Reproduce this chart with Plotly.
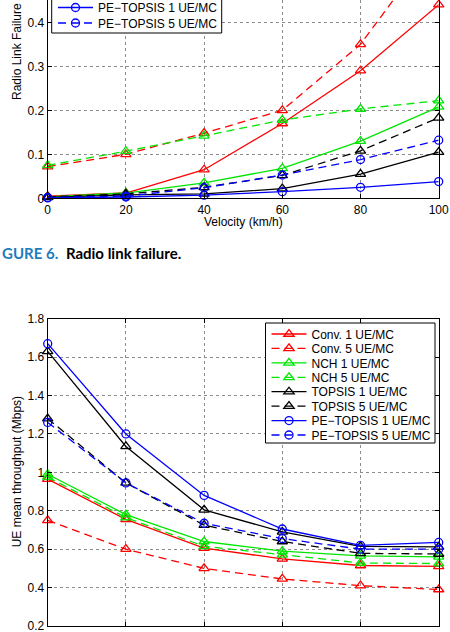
import plotly.graph_objects as go

W, H = 450, 632

velocity = [0, 20, 40, 60, 80, 100]
series_names = ["Conv. 1 UE/MC", "Conv. 5 UE/MC", "NCH 1 UE/MC", "NCH 5 UE/MC",
                "TOPSIS 1 UE/MC", "TOPSIS 5 UE/MC",
                "PE\u2212TOPSIS 1 UE/MC", "PE\u2212TOPSIS 5 UE/MC"]

# Radio link failure (top chart)
rlf_conv1 = [0.005, 0.012, 0.065, 0.170, 0.290, 0.440]
rlf_conv5 = [0.072, 0.100, 0.148, 0.200, 0.350, 0.590]
rlf_nch1 = [0.003, 0.012, 0.035, 0.068, 0.130, 0.208]
rlf_nch5 = [0.075, 0.107, 0.142, 0.178, 0.203, 0.222]
rlf_topsis1 = [0.002, 0.008, 0.010, 0.022, 0.055, 0.105]
rlf_topsis5 = [0.003, 0.010, 0.025, 0.052, 0.108, 0.183]
rlf_pe1 = [0.001, 0.003, 0.007, 0.015, 0.025, 0.038]
rlf_pe5 = [0.002, 0.005, 0.024, 0.053, 0.088, 0.132]

# UE mean throughput (bottom chart)
thr_conv1 = [0.965, 0.755, 0.605, 0.550, 0.515, 0.510]
thr_conv5 = [0.750, 0.600, 0.500, 0.445, 0.410, 0.390]
thr_nch1 = [0.990, 0.780, 0.640, 0.590, 0.565, 0.560]
thr_nch5 = [0.975, 0.765, 0.615, 0.570, 0.528, 0.525]
thr_topsis1 = [1.630, 1.135, 0.805, 0.690, 0.615, 0.612]
thr_topsis5 = [1.280, 0.945, 0.725, 0.640, 0.578, 0.575]
thr_pe1 = [1.670, 1.200, 0.880, 0.705, 0.620, 0.635]
thr_pe5 = [1.260, 0.945, 0.735, 0.655, 0.600, 0.600]

rlf_series = [rlf_conv1, rlf_conv5, rlf_nch1, rlf_nch5, rlf_topsis1, rlf_topsis5, rlf_pe1, rlf_pe5]
thr_series = [thr_conv1, thr_conv5, thr_nch1, thr_nch5, thr_topsis1, thr_topsis5, thr_pe1, thr_pe5]

RED, GREEN, BLACK, BLUE = "#ff0000", "#00e600", "#000000", "#0000ff"
colors = [RED, RED, GREEN, GREEN, BLACK, BLACK, BLUE, BLUE]
DASH = "8px,5px"
dashes = ["solid", DASH] * 4
symbols = ["triangle-up-open"] * 6 + ["circle-open"] * 2
sizes = [9] * 6 + [8] * 2

FONT = "Liberation Sans, Arial, sans-serif"

def px(p):
    return p / W

def py(p):
    return 1 - p / H

# legend layout (pixel positions of the Matlab-style legend boxes)
TOP_BOX = dict(x0=51.7, x1=221.7, y0=-30, y1=33)
TOP_ROWS = {6: 7.5, 7: 23.0}           # only the last two rows are inside the page
BOT_BOX = dict(x0=265.5, x1=435, y0=323, y1=443)
BOT_ROW0, BOT_STEP = 334.0, 14.43

fig = go.Figure()
legends = {}
leg_common = dict(bgcolor="rgba(0,0,0,0)", borderwidth=0, xanchor="left",
                  yanchor="middle", font=dict(size=12, family=FONT, color="black"),
                  itemwidth=35)

n = 1
for i, (name, vals, c, d, s, sz) in enumerate(zip(series_names, rlf_series, colors, dashes, symbols, sizes)):
    show = i in TOP_ROWS
    lid = None
    if show:
        lid = "legend" if n == 1 else "legend%d" % n
        legends[lid] = dict(x=px(TOP_BOX["x0"] + 1.3), y=py(TOP_ROWS[i]), **leg_common)
        n += 1
    fig.add_trace(go.Scatter(
        x=velocity, y=vals, name=name, mode="lines+markers",
        line=dict(color=c, width=1.3, dash=d),
        marker=dict(symbol=s, size=sz, color=c, line=dict(color=c, width=1.3)),
        xaxis="x", yaxis="y", cliponaxis=False, showlegend=show,
        **({"legend": lid} if lid else {}),
    ))

for i, (name, vals, c, d, s, sz) in enumerate(zip(series_names, thr_series, colors, dashes, symbols, sizes)):
    lid = "legend%d" % n
    legends[lid] = dict(x=px(BOT_BOX["x0"] + 1.0), y=py(BOT_ROW0 + i * BOT_STEP), **leg_common)
    n += 1
    fig.add_trace(go.Scatter(
        x=velocity, y=vals, name=name, mode="lines+markers",
        line=dict(color=c, width=1.3, dash=d),
        marker=dict(symbol=s, size=sz, color=c, line=dict(color=c, width=1.3)),
        xaxis="x2", yaxis="y2", legend=lid, cliponaxis=False, showlegend=True,
    ))

x_dom = [px(47.7), px(438.7)]
axis_common = dict(
    showline=True, linecolor="black", linewidth=1,
    ticks="inside", ticklen=4, tickcolor="black", tickwidth=1,
    showgrid=True, gridcolor="#8c8c8c", griddash="dot", gridwidth=1,
    zeroline=False, tickfont=dict(size=12, color="black", family=FONT),
    ticklabeloverflow="allow",
)

box_shapes = [
    dict(type="rect", xref="paper", yref="paper", layer="above",
         x0=px(b["x0"]), x1=px(b["x1"]), y0=py(b["y1"]), y1=py(b["y0"]),
         fillcolor="white", line=dict(color="black", width=1))
    for b in (TOP_BOX, BOT_BOX)
]

fig.update_layout(
    width=W, height=H,
    margin=dict(l=0, r=0, t=0, b=0, pad=0, autoexpand=False),
    paper_bgcolor="white", plot_bgcolor="white",
    font=dict(family=FONT, size=12, color="black"),
    xaxis=dict(domain=x_dom, range=[0, 100], tick0=0, dtick=20, anchor="y",
               mirror=False, **axis_common),
    yaxis=dict(domain=[py(198.3), 1], range=[0, 0.4507], tick0=0, dtick=0.1,
               anchor="x", mirror="ticks", **axis_common),
    xaxis2=dict(domain=x_dom, range=[0, 100], tick0=0, dtick=20, anchor="y2",
                mirror="ticks", showticklabels=False, **axis_common),
    yaxis2=dict(domain=[py(626), py(318.7)], range=[0.2, 1.8], tick0=0.2, dtick=0.2,
                anchor="x2", mirror="ticks", **axis_common),
    shapes=box_shapes,
    annotations=[
        dict(text="Velocity (km/h)", x=px(243), y=py(222), xref="paper", yref="paper",
             xanchor="center", yanchor="middle", showarrow=False, font=dict(size=12)),
        dict(text="Radio Link Failure", x=px(16.5), y=py(1), xref="paper", yref="paper",
             xanchor="center", yanchor="top", textangle=-90, showarrow=False,
             font=dict(size=12)),
        dict(text="UE mean throughput (Mbps)", x=px(17), y=py(472.3), xref="paper",
             yref="paper", xanchor="center", yanchor="middle", textangle=-90,
             showarrow=False, font=dict(size=12)),
        dict(text='<span style="color:#1b7cc0"><b>GURE 6.</b></span>  <b>Radio link failure.</b>',
             x=0, y=py(253), xref="paper", yref="paper", xanchor="left", yanchor="middle",
             showarrow=False, font=dict(size=15, family="Lato, Open Sans, sans-serif",
                                        color="black")),
    ],
)
fig.update_layout(**legends)

fig.write_html("out.html")
